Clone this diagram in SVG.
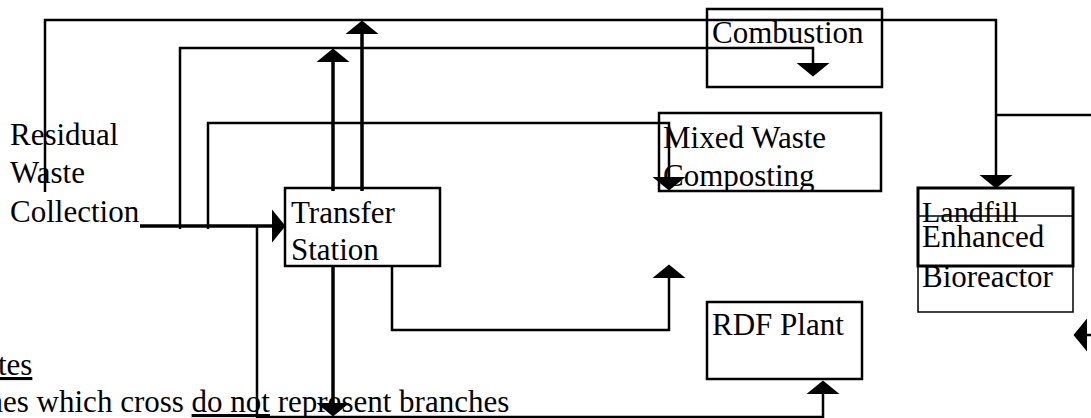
<svg xmlns="http://www.w3.org/2000/svg" width="1091" height="418" viewBox="0 0 1091 418">
<style>
text{font-family:"Liberation Serif","Times New Roman",serif;font-size:31px;fill:#000}
.box{fill:none;stroke:#000;stroke-width:2.5}
.c{fill:none;stroke:#000;stroke-width:2.5;stroke-linejoin:miter}
.t{fill:none;stroke:#000;stroke-width:3.5}
.u{text-decoration:underline}
</style>
<defs>
<marker id="ah" markerUnits="userSpaceOnUse" viewBox="0 -17 14 34" markerWidth="14" markerHeight="34" refX="0" refY="0" orient="auto">
<path d="M0,-16.5 L13.5,0 L0,16.5 Z" fill="#000"/>
</marker>
<clipPath id="mixclip"><rect x="659" y="113" width="222" height="78"/></clipPath>
</defs>
<rect width="1091" height="418" fill="#fff"/>
<g id="connectors">
<path class="c" d="M45,192 V20 H996 V175" marker-end="url(#ah)"/>
<path class="c" d="M996,115 H1091"/>
<path class="c" d="M180,229 V48 H813 V63" marker-end="url(#ah)"/>
<path class="c" d="M208,229 V123 H669 V177" marker-end="url(#ah)"/>
<path class="t" d="M140,226 H272" marker-end="url(#ah)"/>
<path class="t" d="M333,191 V62" marker-end="url(#ah)"/>
<path class="t" d="M362,191 V34" marker-end="url(#ah)"/>
<path class="t" d="M333,266 V403" marker-end="url(#ah)"/>
<path class="c" d="M392,266 V330 H669 V278" marker-end="url(#ah)"/>
<path class="c" d="M257,226 V417 H823 V394" marker-end="url(#ah)"/>
<path class="c" d="M1091,335 H1087" marker-end="url(#ah)"/>
</g>
<g id="residual">
<text x="10" y="145">Residual</text>
<text x="10" y="183">Waste</text>
<text x="10" y="222">Collection</text>
</g>
<g id="combustion">
<rect class="box" x="707" y="9" width="175" height="78"/>
<text x="712" y="43">Combustion</text>
</g>
<g id="mixed">
<rect class="box" x="659" y="113" width="222" height="78"/>
<g clip-path="url(#mixclip)">
<text x="663" y="148">Mixed Waste</text>
<text x="663" y="186">Composting</text>
</g>
</g>
<g id="transfer">
<rect class="box" x="285" y="188" width="155" height="78"/>
<text x="291" y="223">Transfer</text>
<text x="291" y="260">Station</text>
</g>
<g id="rdf">
<rect class="box" x="707" y="302" width="155" height="77"/>
<text x="712" y="335">RDF Plant</text>
</g>
<g id="landfill">
<rect x="918" y="188" width="155" height="124" fill="none" stroke="#000" stroke-width="1.5"/>
<rect x="918" y="188" width="155" height="78" fill="none" stroke="#000" stroke-width="3"/>
<text x="922" y="222" style="font-size:30px">Landfill</text>
<line x1="918" y1="216" x2="1073" y2="216" stroke="#000" stroke-width="1.5"/>
<text x="922" y="247">Enhanced</text>
<text x="922" y="287">Bioreactor</text>
</g>
<g id="notes">
<text x="-40" y="375" class="u">Notes</text>
<text x="-40" y="412">Lines which cross <tspan class="u">do not</tspan> represent branches</text>
</g>
</svg>
